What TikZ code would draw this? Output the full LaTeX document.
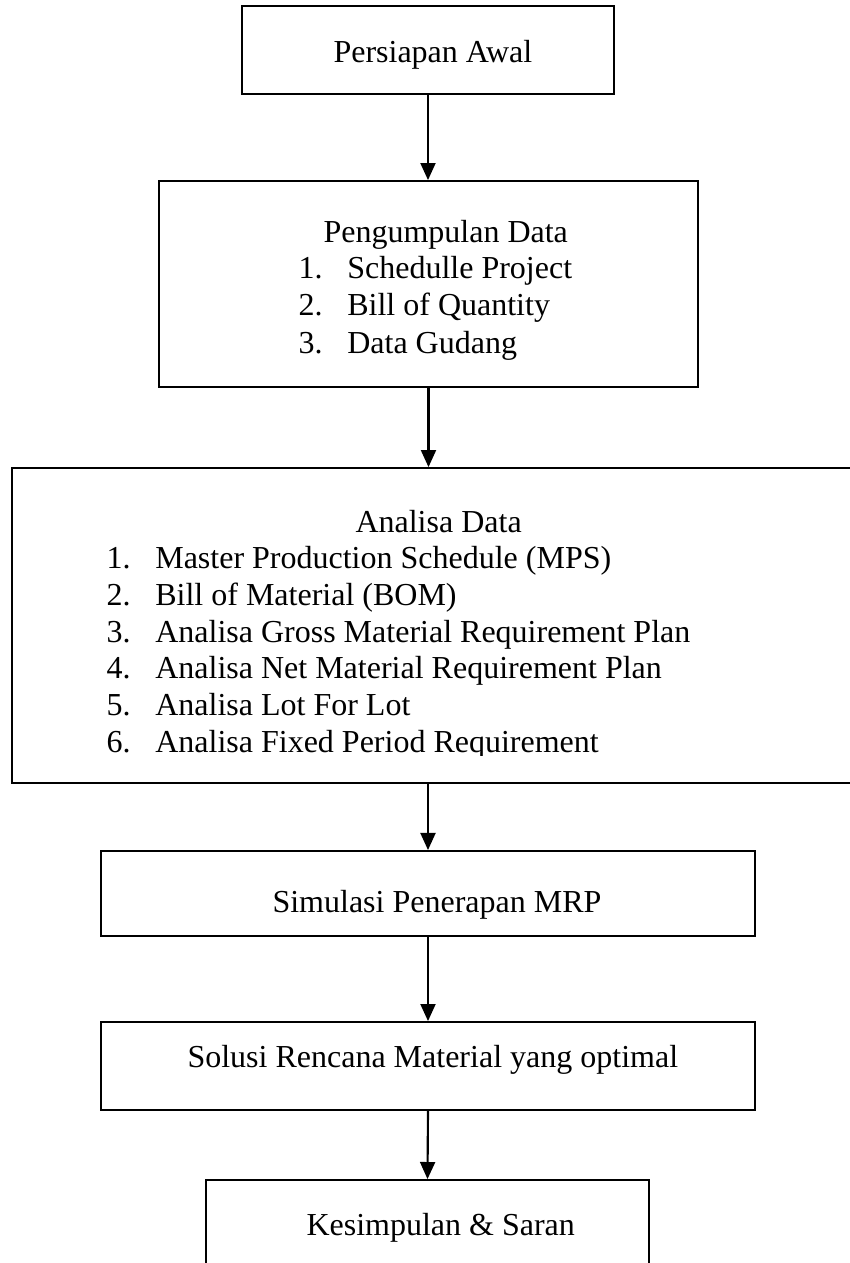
\documentclass[tikz,border=0pt]{standalone}
\usepackage{fontspec}
\setmainfont{Liberation Serif}
\usetikzlibrary{arrows.meta, positioning}
\tikzset{
  blok/.style = {draw, rectangle, line width=0.7pt, inner sep=0pt},
  teks/.style = {anchor=base west, inner sep=0pt, font=\fontsize{12pt}{13.875pt}\selectfont},
  panah/.style = {-{Triangle[width=5.6pt,length=6.4pt]}, line width=0.8pt},
}
\newcommand{\nomor}[1]{\makebox[18.3pt][l]{#1}}

\begin{document}
\begin{tikzpicture}[x=0.375pt, y=-0.375pt]
  \useasboundingbox (0,0) rectangle (850,1263);
  \clip (0,0) rectangle (850,1263);

  % kotak-kotak alur
  \node (box 1) at(428,50) [blok, minimum width=139.5pt, minimum height=33pt] {};
  \node (box 2) at(428.5,284) [blok, minimum width=202pt, minimum height=77.25pt] {};
  \node (box 3) at(434,625.5) [blok, minimum width=316.5pt, minimum height=118.1pt] {};
  \node (box 4) at(428,893.5) [blok, minimum width=245pt, minimum height=31.9pt] {};
  \node (box 5) at(428,1066) [blok, minimum width=245pt, minimum height=33pt] {};
  \node (box 6) at(427.5,1235) [blok, minimum width=166pt, minimum height=41.25pt] {};

  % isi teks
  \node (persiapan) at(333,62) [teks] {Persiapan Awal};

  \node (pengumpulan) at(323,242) [teks] {Pengumpulan Data};
  \node (pd 1) at(298,278) [teks] {\nomor{1.}Schedulle Project};
  \node (pd 2) at(298,315) [teks] {\nomor{2.}Bill of Quantity};
  \node (pd 3) at(298,353) [teks] {\nomor{3.}Data Gudang};

  \node (analisa) at(355,532) [teks] {Analisa Data};
  \node (ad 1) at(106,568) [teks] {\nomor{1.}Master Production Schedule (MPS)};
  \node (ad 2) at(106,605) [teks] {\nomor{2.}Bill of Material (BOM)};
  \node (ad 3) at(106,642) [teks] {\nomor{3.}Analisa Gross Material Requirement Plan};
  \node (ad 4) at(106,678) [teks] {\nomor{4.}Analisa Net Material Requirement Plan};
  \node (ad 5) at(106,715) [teks] {\nomor{5.}Analisa Lot For Lot};
  % baris terakhir terpotong di tepi bawah area teks
  \begin{scope}
    \clip (0,700) rectangle (850,755);
    \node (ad 6) at(106,752) [teks] {\nomor{6.}Analisa Fixed Period Requirement};
  \end{scope}

  \node (simulasi) at(272,912) [teks] {Simulasi Penerapan MRP};
  \node (solusi) at(187,1067) [teks] {Solusi Rencana Material yang optimal};
  \node (kesimpulan) at(306,1235) [teks] {Kesimpulan \& Saran};

  % panah antar tahap
  \draw[panah] (box 1.south) -- (box 1.south |- box 2.north);
  \draw[panah] (box 2.south) -- (box 2.south |- box 3.north);
  \draw[panah] (box 4.north |- box 3.south) -- (box 4.north);
  \draw[panah] (box 4.south) -- (box 5.north);
  \draw[panah] (box 5.south) -- (box 6.north);

\end{tikzpicture}
\end{document}
